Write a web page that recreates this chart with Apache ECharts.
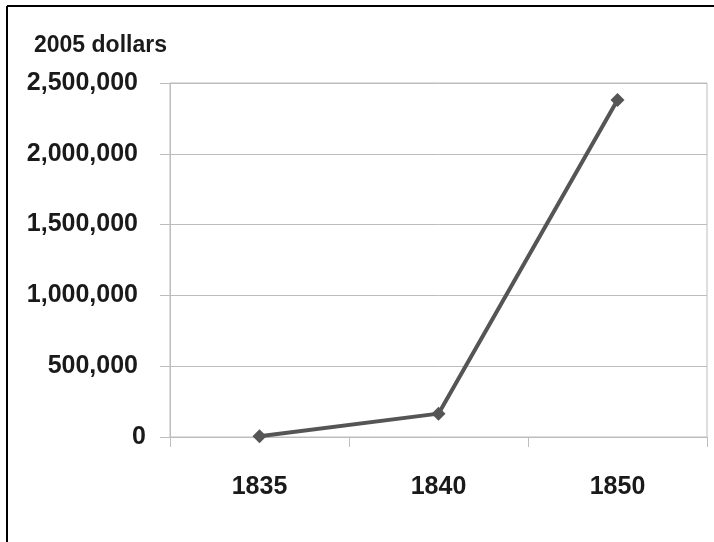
<!DOCTYPE html>
<html>
<head>
<meta charset="utf-8">
<script src="https://cdn.jsdelivr.net/npm/echarts@6/dist/echarts.min.js"></script>
<style>
  html, body { margin: 0; padding: 0; background: #fff; }
  #chart { width: 714px; height: 542px; }
</style>
</head>
<body>
<div id="chart"></div>
<script>
// data
var years = ['1835', '1840', '1850'];
var dollars = [5000, 165000, 2380000];
var yTicks = [0, 500000, 1000000, 1500000, 2000000, 2500000];

var chart = echarts.init(document.getElementById('chart'));

var font = '"Liberation Sans", Arial, sans-serif';

var option = {
  backgroundColor: '#fff',
  animation: false,
  title: {
    text: '2005 dollars',
    left: 29,
    top: 29,
    textStyle: { fontFamily: font, fontSize: 23, fontWeight: 'bold', color: '#1a1a1a' }
  },
  graphic: [
    { type: 'line', shape: { x1: 7, y1: 6, x2: 714, y2: 6 }, style: { stroke: '#000', lineWidth: 2 } },
    { type: 'line', shape: { x1: 7, y1: 6, x2: 7, y2: 542 }, style: { stroke: '#000', lineWidth: 2 } }
  ],
  grid: {
    left: 170, right: 7, top: 83, bottom: 105,
    show: true, borderColor: '#bdbdbd', borderWidth: 1
  },
  xAxis: {
    type: 'category',
    data: years,
    boundaryGap: true,
    axisLine: { lineStyle: { color: '#bdbdbd', width: 1 } },
    axisTick: { show: true, length: 10, lineStyle: { color: '#bdbdbd' } },
    axisLabel: { margin: 38, fontFamily: font, fontSize: 25, fontWeight: 'bold', color: '#1a1a1a' },
    splitLine: { show: false }
  },
  yAxis: {
    type: 'value',
    min: yTicks[0],
    max: yTicks[yTicks.length - 1],
    interval: yTicks[1] - yTicks[0],
    axisLine: { show: true, lineStyle: { color: '#bdbdbd', width: 1 } },
    axisTick: { show: true, length: 10, lineStyle: { color: '#bdbdbd' } },
    axisLabel: {
      margin: 24,
      formatter: function (v) {
        // non-zero labels sit a little further left than the zero label
        return v === 0 ? '{n|0}' : '{n|' + v.toLocaleString('en-US') + '}{p|}';
      },
      rich: {
        n: { fontFamily: font, fontSize: 25, fontWeight: 'bold', color: '#1a1a1a' },
        p: { width: 8 }
      }
    },
    splitLine: { show: true, lineStyle: { color: '#bdbdbd', width: 1 } }
  },
  series: [{
    type: 'line',
    data: dollars,
    symbol: 'diamond',
    symbolSize: 14,
    lineStyle: { color: '#555', width: 4 },
    itemStyle: { color: '#555' }
  }]
};

chart.setOption(option);
</script>
</body>
</html>
